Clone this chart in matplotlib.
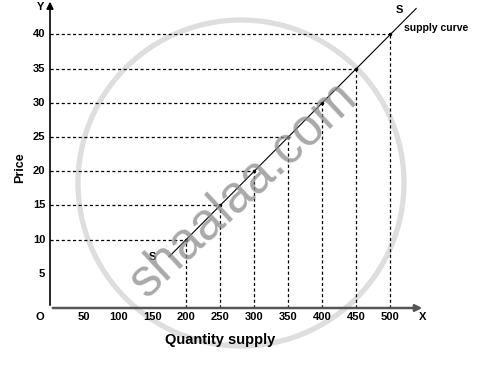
import matplotlib.pyplot as plt
from matplotlib.patches import Ellipse
import numpy as np

plt.rcParams['font.family'] = ['Liberation Sans', 'DejaVu Sans']

# supply schedule
quantity = [200, 250, 300, 350, 400, 450, 500]
price = [10, 15, 20, 25, 30, 35, 40]
# extended ends of the drawn curve
curve_q = [175, 538]
curve_p = [7.5, 43.8]

x_ticks = [50, 100, 150, 200, 250, 300, 350, 400, 450, 500]
y_ticks = [5, 10, 15, 20, 25, 30, 35, 40]

fig = plt.figure(figsize=(4.81, 3.68), dpi=100)
ax = fig.add_axes([50 / 481, 60 / 368, 373 / 481, 305 / 368])
ax.set_xlim(0, 548)
ax.set_ylim(0, 44.6)
ax.patch.set_alpha(0)
for s in ['top', 'right', 'left', 'bottom']:
    ax.spines[s].set_visible(False)
ax.set_xticks([])
ax.set_yticks([])

# watermark
fig.patches.append(Ellipse((241 / 481, 1 - 183 / 368), 326 / 481, 326 / 368,
                           transform=fig.transFigure, fill=False,
                           edgecolor='#dedede', linewidth=3.8, zorder=-1))
fig.text(243 / 481, 1 - 190 / 368, 'shaalaa.com', rotation=43, fontsize=37,
         color='#8c8c8c', alpha=0.75, ha='center', va='center', zorder=5)

# axes with arrows
ax.annotate('', xy=(551, 0), xytext=(0, 0),
            arrowprops=dict(arrowstyle='-|>', color='#555555', lw=1.8,
                            mutation_scale=10), annotation_clip=False)
ax.annotate('', xy=(0, 45.2), xytext=(0, 0),
            arrowprops=dict(arrowstyle='-|>', color='black', lw=1.2,
                            mutation_scale=10), annotation_clip=False)

# dashed guides
for q, p in zip(quantity, price):
    ax.plot([0, q], [p, p], color='black', lw=0.9, ls=(0, (2.5, 2)))
    ax.plot([q, q], [0, p], color='black', lw=0.9, ls=(0, (2.5, 2)))
ax.plot(quantity, price, 'o', color='black', ms=1.5)

# supply curve
ax.plot(curve_q, curve_p, color='black', lw=0.8)

tick_kw = dict(fontsize=8, fontweight='bold', clip_on=False)
for t in x_ticks:
    ax.text(t, -1.3, str(t), ha='center', va='center', **tick_kw)
for t in y_ticks:
    ax.text(-7, t, str(t), ha='right', va='center', **tick_kw)
ax.text(-15, -1.3, 'O', ha='center', va='center', **tick_kw)
ax.text(548, -1.3, 'X', ha='center', va='center', **tick_kw)
ax.text(-14, 44.0, 'Y', ha='center', va='center', **tick_kw)

ax.text(150, 7.5, 'S', ha='center', va='center', **tick_kw)
ax.text(513, 43.6, 'S', ha='center', va='center', **tick_kw)
ax.text(520, 41.0, 'supply curve', ha='left', va='center',
        fontsize=7.5, fontweight='bold', clip_on=False)

ax.text(-44, 20.5, 'Price', rotation=90, ha='center', va='center',
        fontsize=9, fontweight='bold', clip_on=False)
ax.text(250, -4.7, 'Quantity supply', ha='center', va='center',
        fontsize=10.5, fontweight='bold', clip_on=False, zorder=6)

fig.savefig('out.png', dpi=100)
